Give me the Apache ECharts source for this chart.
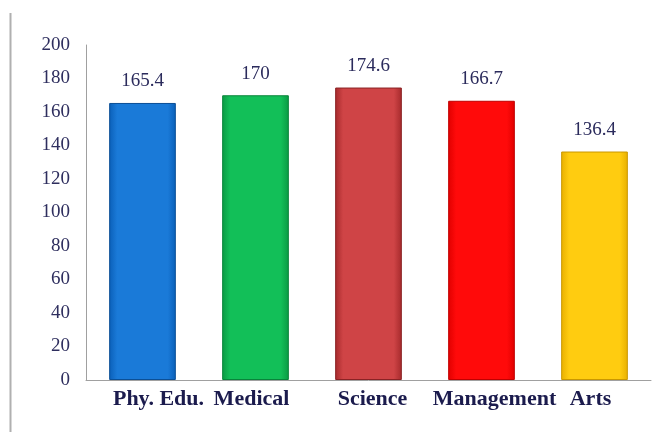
<!DOCTYPE html>
<html><head><meta charset="utf-8">
<script src="https://cdn.jsdelivr.net/npm/echarts@6/dist/echarts.min.js"></script>
<style>html,body{margin:0;padding:0;background:#fff}#c{width:659px;height:432px}</style>
</head><body><div id="c"></div>
<script>
const categories = ['Phy. Edu.', 'Medical', 'Science', 'Management', 'Arts'];
const values = [165.4, 170, 174.6, 166.7, 136.4];
const yTicks = [0, 20, 40, 60, 80, 100, 120, 140, 160, 180, 200];
const barColors = [
  ['#0a5fb8', '#1a7ad8', '#0a5fb8'],
  ['#0a9a44', '#12bf58', '#0a9a44'],
  ['#a52a2c', '#cf4446', '#a52a2c'],
  ['#e00000', '#ff0a0a', '#e00000'],
  ['#e8b000', '#ffcc10', '#e8b000']
];
const edge = ['#0b4f96', '#08843a', '#8a2224', '#c00000', '#c99700'];
const labelPad = [[0, 0, 0, 32], [0, 8, 0, 0], [0, 0, 0, 8], [0, 0, 0, 26], [0, 8, 0, 0]];
const chart = echarts.init(document.getElementById('c'));
const serif = '"Liberation Serif", "DejaVu Serif", serif';
const rich = {};
labelPad.forEach((p, i) => { rich['p' + i] = { fontFamily: serif, fontWeight: 'bold', fontSize: 22, color: '#1b1b4d', padding: p }; });
chart.setOption({
  animation: false,
  grid: { left: 86, right: 8, top: 45, bottom: 52 },
  graphic: [{ type: 'line', shape: { x1: 10.5, y1: 13, x2: 10.5, y2: 432 }, style: { stroke: '#b0b0b0', lineWidth: 2 } }],
  xAxis: {
    type: 'category', data: categories,
    axisLine: { lineStyle: { color: '#a0a0a0', width: 1 } },
    axisTick: { show: false },
    axisLabel: {
      interval: 0, hideOverlap: false,
      fontFamily: serif, fontWeight: 'bold', fontSize: 22, color: '#1b1b4d', margin: 8,
      formatter: function (v, i) { return '{p' + i + '|' + v + '}'; },
      rich: rich
    }
  },
  yAxis: {
    type: 'value', min: yTicks[0], max: yTicks[yTicks.length - 1], interval: yTicks[1] - yTicks[0],
    axisLine: { show: true, lineStyle: { color: '#a0a0a0', width: 1 } },
    axisTick: { show: false },
    splitLine: { show: false },
    axisLabel: { fontFamily: serif, fontSize: 19, color: '#2e2e5e', margin: 16 }
  },
  series: [{
    type: 'bar', barWidth: '59%',
    data: values.map((v, i) => ({
      value: v,
      itemStyle: {
        color: new echarts.graphic.LinearGradient(0, 0, 1, 0, [
          { offset: 0, color: barColors[i][0] },
          { offset: 0.12, color: barColors[i][1] },
          { offset: 0.88, color: barColors[i][1] },
          { offset: 1, color: barColors[i][2] }
        ]),
        borderColor: edge[i], borderWidth: 1
      }
    })),
    label: { show: true, position: 'top', distance: 12, fontFamily: serif, fontSize: 19, color: '#2b2b5c' }
  }]
});
</script></body></html>
